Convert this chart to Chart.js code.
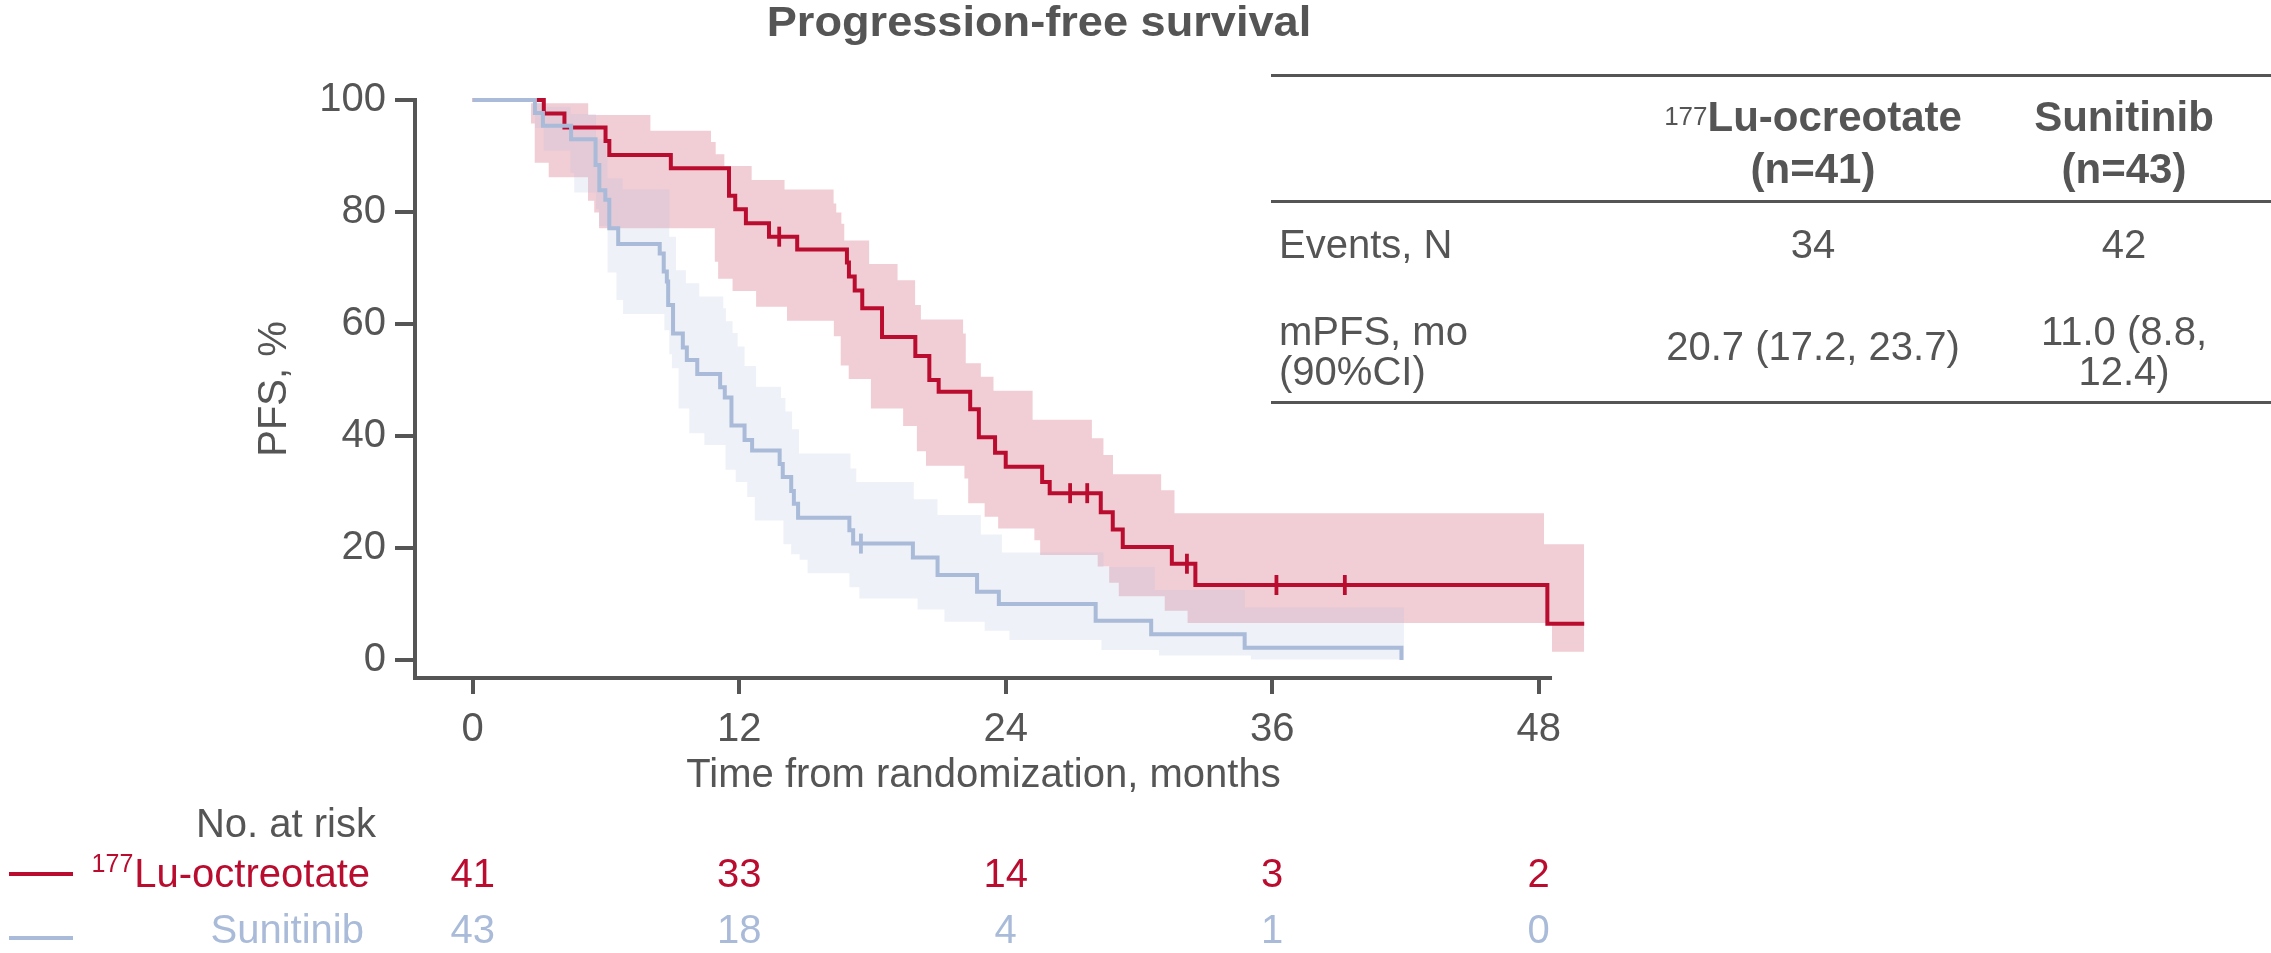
<!DOCTYPE html>
<html>
<head>
<meta charset="utf-8">
<script src="https://cdn.jsdelivr.net/npm/chart.js@4.4.1/dist/chart.umd.min.js"></script>
<style>
  html, body { margin: 0; padding: 0; background: #ffffff; overflow: hidden; }
  #wrap { position: absolute; left: 0; top: 0; width: 2271px; height: 953px; }
  .t { position: absolute; font-family: "Liberation Sans", Arial, Helvetica, sans-serif; color: #555555; white-space: nowrap; }
  .reg { font-size: 40px; line-height: 40px; }
  .bold { font-size: 42px; line-height: 42px; font-weight: bold; }
  .ctr { text-align: center; }
  .sup { font-size: 26px; font-weight: normal; position: relative; top: -6px; }
  .rule { position: absolute; left: 1271px; width: 1000px; height: 3px; background: #555555; }
</style>
</head>
<body>
<div id="wrap"><canvas id="km"></canvas></div>
<div id="overlay"></div>
<script>
// ---------------- data ----------------
const chartTitle = 'Progression-free survival';
const xTitle = 'Time from randomization, months';
const yTitle = 'PFS, %';
const xTicks = [0, 12, 24, 36, 48];
const yTicks = [0, 20, 40, 60, 80, 100];

// 177Lu-octreotate Kaplan-Meier curve
const luTime = [0, 3.2, 4.13, 5.98, 6.15, 8.92, 11.54, 11.82, 12.3, 13.34, 14.61, 16.85, 16.94, 17.2, 17.54, 18.43, 19.93, 20.56, 20.98, 22.4, 22.79, 23.52, 24.0, 25.64, 25.98, 28.28, 28.82, 29.27, 31.48, 32.54, 48.39, 50.05];
const luPFS  = [100, 97.6, 95.1, 92.7, 90.2, 87.8, 82.9, 80.5, 78.0, 75.6, 73.3, 71.0, 68.5, 66.0, 62.8, 57.7, 54.3, 50.0, 47.9, 44.8, 39.8, 37.0, 34.5, 31.8, 29.8, 26.4, 23.3, 20.2, 17.2, 13.4, 6.5, 6.5];
const luCensorTime = [13.8, 26.9, 27.67, 32.16, 36.19, 39.27];
const luCensorPFS  = [75.6, 29.8, 29.8, 17.2, 13.4, 13.4];
const luUpperTime = [2.62, 5.2, 8.0, 10.73, 10.94, 11.33, 12.56, 14.04, 16.25, 16.37, 16.6, 16.73, 17.85, 19.13, 19.92, 20.18, 22.08, 22.2, 22.88, 23.45, 25.21, 27.88, 28.4, 28.83, 31.0, 31.6, 48.24, 50.05];
const luUpper     = [99.4, 97.3, 94.5, 92.5, 90.3, 88.2, 85.7, 84.0, 81.5, 79.9, 77.9, 74.9, 70.7, 67.8, 63.4, 60.8, 58.3, 53.0, 50.6, 48.1, 42.9, 39.6, 36.6, 33.2, 30.3, 26.2, 20.7, 20.7];
const luLowerTime = [2.62, 2.79, 3.42, 5.19, 5.47, 5.69, 10.9, 11.05, 11.7, 12.76, 14.15, 16.26, 16.57, 16.93, 17.93, 19.38, 20.0, 20.41, 22.14, 22.31, 23.05, 23.66, 25.29, 25.55, 28.14, 28.66, 29.09, 31.16, 32.19, 48.6, 50.05];
const luLower     = [95.8, 88.8, 86.2, 82.0, 79.9, 77.1, 71.1, 68.1, 65.9, 63.1, 60.6, 57.8, 52.6, 50.2, 44.9, 41.8, 37.3, 34.7, 32.4, 28.0, 25.6, 23.5, 21.4, 18.75, 16.7, 13.8, 11.4, 8.8, 6.6, 1.5, 1.5];

// Sunitinib Kaplan-Meier curve
const suTime = [0, 2.8, 3.16, 4.43, 5.53, 5.70, 5.97, 6.15, 6.55, 8.42, 8.6, 8.74, 8.8, 9.02, 9.46, 9.64, 10.11, 11.14, 11.35, 11.65, 12.24, 12.58, 13.82, 13.96, 14.34, 14.46, 14.65, 16.96, 17.13, 19.82, 20.93, 22.71, 23.69, 28.05, 30.55, 34.76, 41.82];
const suPFS  = [100, 97.7, 95.4, 93.0, 88.4, 83.9, 82.2, 77.1, 74.3, 72.6, 69.4, 67.6, 63.4, 58.3, 55.8, 53.6, 51.1, 48.7, 46.9, 41.9, 39.3, 37.4, 35.0, 32.7, 30.2, 27.9, 25.4, 23.2, 20.8, 18.3, 15.2, 12.2, 10.0, 7.0, 4.6, 2.2, 0];
const suCensorTime = [17.48];
const suCensorPFS  = [20.8];
const suUpperTime = [2.8, 3.2, 4.4, 5.55, 6.0, 6.07, 6.75, 8.85, 9.15, 9.6, 10.2, 11.28, 11.4, 11.7, 11.93, 12.24, 12.76, 13.88, 14.08, 14.38, 14.69, 17.01, 17.27, 19.86, 20.93, 22.88, 23.83, 28.4, 30.71, 34.77, 41.93];
const suUpper     = [99.6, 98.8, 97.5, 93.0, 89.9, 86.0, 84.0, 75.6, 69.6, 67.3, 64.9, 62.8, 60.5, 58.4, 56.0, 52.5, 48.8, 46.8, 44.4, 41.2, 36.9, 34.2, 31.8, 28.7, 25.9, 22.4, 19.2, 16.6, 12.5, 9.4, 9.4];
const suLowerTime = [2.8, 3.2, 4.4, 4.57, 5.55, 5.69, 6.07, 6.47, 6.77, 8.63, 8.85, 8.97, 9.27, 9.75, 10.43, 11.38, 11.84, 12.36, 12.7, 13.99, 14.34, 14.72, 15.08, 16.96, 17.41, 20.03, 21.24, 23.05, 24.17, 28.31, 30.9, 35.04, 41.93];
const suLower     = [95.0, 91.0, 87.0, 83.5, 80.5, 77.5, 69.2, 64.3, 61.8, 58.9, 54.6, 52.1, 44.9, 40.5, 38.4, 34.0, 31.8, 29.1, 24.9, 20.7, 18.9, 17.9, 15.5, 13.0, 11.0, 9.05, 6.85, 5.24, 3.57, 1.8, 0.8, 0.1, 0.1];

// number at risk
const riskTitle = 'No. at risk';
const riskTimes = [0, 12, 24, 36, 48];
const riskLu = [41, 33, 14, 3, 2];
const riskSu = [43, 18, 4, 1, 0];

// summary table
const tableArms = ['Lu-ocreotate', 'Sunitinib'];
const tableArmSup = ['177', ''];
const tableN = [41, 43];
const tableEvents = [34, 42];
const tableMPFS = [['20.7 (17.2, 23.7)'], ['11.0 (8.8,', '12.4)']];
const tableRowLabels = [['Events, N'], ['mPFS, mo', '(90%CI)']];

// ---------------- styles ----------------
const FONT = '"Liberation Sans", Arial, Helvetica, sans-serif';
const TXT = '#555555';
const AXIS = '#555555';
const RED = '#BA0C2F';
const BLUE = '#A9BBD8';
const RED_BAND = 'rgba(186,12,47,0.2)';
const BLUE_BAND = 'rgba(169,187,216,0.2)';
const NONE = 'rgba(0,0,0,0)';

// ---------------- html text (title + table) ----------------
const ov = document.getElementById('overlay');
function addDiv(cls, style, html) {
  const d = document.createElement('div');
  d.className = 't ' + cls;
  d.setAttribute('style', style);
  d.innerHTML = html;
  ov.appendChild(d);
  return d;
}
addDiv('ctr', 'left:0;width:2078px;top:1px;font-size:42px;line-height:42px;font-weight:bold;transform:scaleX(1.075);transform-origin:1039px 0;', chartTitle);
[74, 200, 401].forEach(t => { const r = document.createElement('div'); r.className = 'rule'; r.style.top = t + 'px'; ov.appendChild(r); });
const colCenters = [1813, 2124];
tableArms.forEach((a, i) => {
  const sup = tableArmSup[i] ? '<span class="sup">' + tableArmSup[i] + '</span>' : '';
  addDiv('bold ctr', `left:${colCenters[i] - 200}px;width:400px;top:96px;`, sup + a);
  addDiv('bold ctr', `left:${colCenters[i] - 200}px;width:400px;top:148px;`, '(n=' + tableN[i] + ')');
  addDiv('reg ctr', `left:${colCenters[i] - 200}px;width:400px;top:224px;`, String(tableEvents[i]));
  const lines = tableMPFS[i];
  if (lines.length === 1) {
    addDiv('reg ctr', `left:${colCenters[i] - 200}px;width:400px;top:326px;`, lines[0]);
  } else {
    addDiv('reg ctr', `left:${colCenters[i] - 200}px;width:400px;top:311px;`, lines[0]);
    addDiv('reg ctr', `left:${colCenters[i] - 200}px;width:400px;top:351px;`, lines[1]);
  }
});
addDiv('reg', 'left:1279px;top:224px;', tableRowLabels[0][0]);
addDiv('reg', 'left:1279px;top:311px;', tableRowLabels[1][0]);
addDiv('reg', 'left:1279px;top:351px;', tableRowLabels[1][1]);

// ---------------- chart ----------------
const pts = (xs, ys) => xs.map((x, i) => ({ x: x, y: ys[i] }));
Chart.defaults.font.family = FONT;
Chart.defaults.color = TXT;

const AXIS_END = 48.6;

const decor = {
  id: 'decor',
  afterDraw(chart) {
    const { ctx, chartArea, scales } = chart;
    const x = scales.x, y = scales.y;
    ctx.save();
    // axis lines
    ctx.strokeStyle = AXIS;
    ctx.lineWidth = 4;
    ctx.lineCap = 'butt';
    ctx.beginPath();
    ctx.moveTo(chartArea.left, y.getPixelForValue(yTicks[yTicks.length - 1]) - 2);
    ctx.lineTo(chartArea.left, chartArea.bottom + 2);
    ctx.stroke();
    ctx.beginPath();
    ctx.moveTo(chartArea.left - 2, chartArea.bottom);
    ctx.lineTo(x.getPixelForValue(AXIS_END), chartArea.bottom);
    ctx.stroke();

    // x title, centred on the drawn axis line
    ctx.fillStyle = TXT;
    ctx.font = '40px ' + FONT;
    ctx.textAlign = 'center';
    ctx.textBaseline = 'alphabetic';
    ctx.fillText(xTitle, (chartArea.left + x.getPixelForValue(AXIS_END)) / 2, 787);

    // number at risk
    ctx.textAlign = 'right';
    ctx.fillText(riskTitle, 376, 837);
    ctx.fillStyle = RED;
    ctx.fillText('Lu-octreotate', 370, 887);
    const w = ctx.measureText('Lu-octreotate').width;
    ctx.font = '25px ' + FONT;
    ctx.fillText('177', 370 - w - 1, 872);
    ctx.font = '40px ' + FONT;
    ctx.fillStyle = BLUE;
    ctx.fillText('Sunitinib', 364, 943);
    ctx.textAlign = 'center';
    riskTimes.forEach((t, i) => {
      const px = x.getPixelForValue(t);
      ctx.fillStyle = RED;
      ctx.fillText(String(riskLu[i]), px, 887);
      ctx.fillStyle = BLUE;
      ctx.fillText(String(riskSu[i]), px, 943);
    });
    // legend line keys
    ctx.lineWidth = 4;
    ctx.strokeStyle = RED;
    ctx.beginPath(); ctx.moveTo(9, 874); ctx.lineTo(73, 874); ctx.stroke();
    ctx.strokeStyle = BLUE;
    ctx.beginPath(); ctx.moveTo(9, 938); ctx.lineTo(73, 938); ctx.stroke();
    ctx.restore();
  }
};

const bandBase = { stepped: true, borderColor: NONE, borderWidth: 0, pointRadius: 0, pointHoverRadius: 0, clip: false };
const lineBase = { stepped: true, borderWidth: 4, pointRadius: 0, pointHoverRadius: 0, fill: false, clip: false };
const censorBase = { showLine: false, pointStyle: 'line', pointRotation: 90, pointRadius: 10, pointHoverRadius: 10, pointBorderWidth: 3.8, clip: false };

new Chart(document.getElementById('km'), {
  type: 'line',
  data: {
    datasets: [
      Object.assign({}, censorBase, { label: 'luCensor', data: pts(luCensorTime, luCensorPFS), borderColor: RED, pointBorderColor: RED, order: 0 }),
      Object.assign({}, censorBase, { label: 'suCensor', data: pts(suCensorTime, suCensorPFS), borderColor: BLUE, pointBorderColor: BLUE, order: 0 }),
      Object.assign({}, lineBase, { label: 'Sunitinib', data: pts(suTime, suPFS), borderColor: BLUE, order: 1 }),
      Object.assign({}, lineBase, { label: '177Lu-octreotate', data: pts(luTime, luPFS), borderColor: RED, order: 2 }),
      Object.assign({}, bandBase, { label: 'suUpper', data: pts(suUpperTime, suUpper), backgroundColor: BLUE_BAND, fill: '+1', order: 3 }),
      Object.assign({}, bandBase, { label: 'suLower', data: pts(suLowerTime, suLower), fill: false, order: 3 }),
      Object.assign({}, bandBase, { label: 'luUpper', data: pts(luUpperTime, luUpper), backgroundColor: RED_BAND, fill: '+1', order: 4 }),
      Object.assign({}, bandBase, { label: 'luLower', data: pts(luLowerTime, luLower), fill: false, order: 4 })
    ]
  },
  options: {
    responsive: true,
    maintainAspectRatio: false,
    animation: false,
    events: [],
    layout: { padding: { left: 251, top: 100, right: 679, bottom: 175 } },
    plugins: { legend: { display: false }, tooltip: { enabled: false }, title: { display: false } },
    scales: {
      x: {
        type: 'linear',
        min: -2.6,
        max: 50.4,
        afterBuildTicks: s => { s.ticks = xTicks.map(v => ({ value: v })); },
        afterFit: s => { s.height = 100; },
        border: { display: false },
        grid: { display: true, drawOnChartArea: false, drawTicks: true, tickLength: 16, color: AXIS, lineWidth: 4 },
        ticks: { color: TXT, font: { size: 40 }, padding: 12, autoSkip: false, maxRotation: 0, callback: v => String(v) }
      },
      y: {
        type: 'linear',
        min: -3.2,
        max: 100,
        afterBuildTicks: s => { s.ticks = yTicks.map(v => ({ value: v })); },
        afterFit: s => { s.width = 164; },
        border: { display: false },
        grid: { display: true, drawOnChartArea: false, drawTicks: true, tickLength: 20, color: AXIS, lineWidth: 4 },
        ticks: { color: TXT, font: { size: 40 }, padding: 9, autoSkip: false, callback: v => String(v) },
        title: { display: true, text: yTitle, color: TXT, font: { size: 40 }, padding: 0 }
      }
    }
  },
  plugins: [decor]
});
</script>
</body>
</html>
